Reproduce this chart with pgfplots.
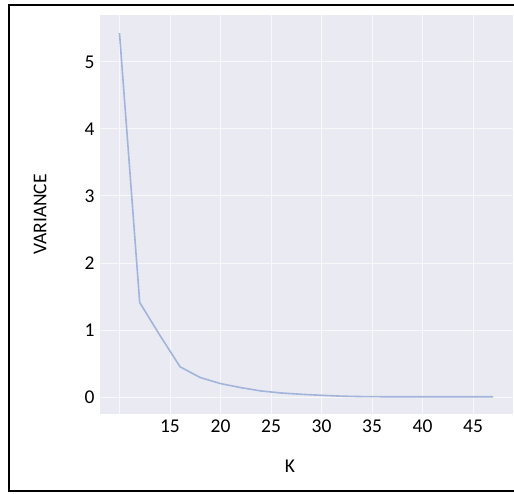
\documentclass[border=0pt]{standalone}
\usepackage{pgfplots}
\pgfplotsset{compat=1.18}
\usepackage{fontspec}
\setmainfont{Carlito}
\definecolor{bgc}{HTML}{EAEAF2}
\definecolor{linec}{HTML}{A3B4DB}
\begin{document}
\begin{tikzpicture}[x=1pt,y=1pt]
\useasboundingbox (0,0) rectangle (514,493);
\begin{axis}[
  at={(100pt,79pt)}, anchor=south west,
  scale only axis, width=413pt, height=399pt,
  xmin=8.07, xmax=48.96, ymin=-0.254, ymax=5.70,
  axis background/.style={fill=bgc},
  axis line style={draw=none},
  major tick length=0pt,
  grid=major, major grid style={white!65!bgc, line width=0.9pt},
  xtick={10,15,20,25,30,35,40,45},
  xticklabels={,15,20,25,30,35,40,45},
  ytick={0,1,2,3,4,5},
  tick label style={font=\fontsize{19.5}{22}\selectfont},
  /pgf/number format/assume math mode=true,
  xticklabel style={yshift=-2pt},
  yticklabel style={xshift=-2pt},
  xlabel={K}, ylabel={VARIANCE},
  label style={font=\fontsize{19.5}{22}\selectfont},
  xlabel style={at={(axis description cs:0.46,0)}, anchor=center, yshift=-52pt},
  ylabel style={at={(axis description cs:0,0.5)}, anchor=center, rotate=0, yshift=60pt},
]
\addplot[linec, line width=1.6pt, line join=round] coordinates {
(10,5.43) (12,1.41) (14,0.92) (16,0.45) (18,0.29) (20,0.20) (22,0.14) (24,0.09)
(26,0.06) (28,0.04) (30,0.025) (32,0.012) (34,0.006) (36,0.004) (38,0.003)
(40,0.003) (42,0.003) (44,0.003) (46,0.003) (47,0.003)
};
\end{axis}
\draw[line width=2pt] (9,2) rectangle (530,488);
\end{tikzpicture}
\end{document}
